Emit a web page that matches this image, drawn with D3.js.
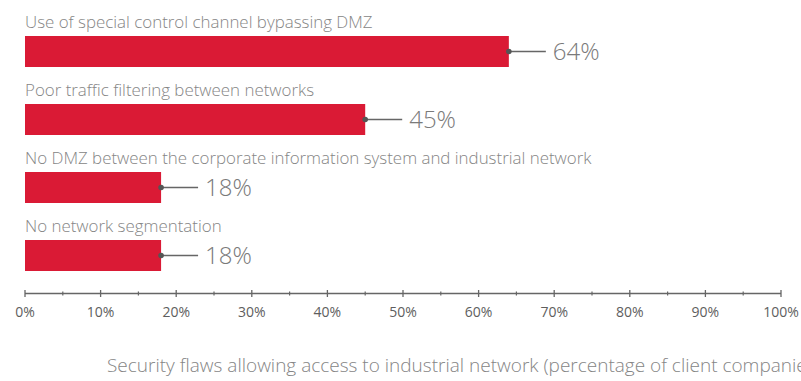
<!DOCTYPE html>
<html>
<head>
<meta charset="utf-8">
<script src="https://cdn.jsdelivr.net/npm/d3@7"></script>
<style>
  html, body { margin: 0; padding: 0; background: #fff; overflow: hidden; }
  svg { display: block; font-family: "Open Sans", "Noto Sans", sans-serif; }
</style>
</head>
<body>
<svg id="chart" width="801" height="381"></svg>
<script>
// Security flaws and share of client companies affected (%)
const categories = [
  "Use of special control channel bypassing DMZ",
  "Poor traffic filtering between networks",
  "No DMZ between the corporate information system and industrial network",
  "No network segmentation"
];
const values = [64, 45, 18, 18];
const tickValues = [0, 10, 20, 30, 40, 50, 60, 70, 80, 90, 100];
const minorTickValues = [5, 15, 25, 35, 45, 55, 65, 75, 85, 95];
const caption = "Security flaws allowing access to industrial network (percentage of client companies)";

const svg = d3.select("#chart");

const x = d3.scaleLinear().domain([0, 100]).range([25, 781]);
// four bars, 31px tall, 68px apart, starting at y = 36
const y = d3.scaleBand().domain(categories).range([36, 271]).paddingInner(37 / 68).paddingOuter(0);

const rows = svg.append("g")
  .selectAll("g.row").data(categories.map((c, i) => ({ c, v: values[i] })))
  .join("g").attr("class", "row")
  .attr("transform", d => `translate(0,${y(d.c)})`);

rows.append("text")
  .attr("x", x(0))
  .attr("y", -8)
  .attr("fill", "#858585")
  .attr("font-size", 16.9)
  .attr("font-weight", 300)
  .text(d => d.c);

rows.append("rect")
  .attr("x", x(0))
  .attr("y", 0)
  .attr("width", d => x(d.v) - x(0))
  .attr("height", y.bandwidth())
  .attr("fill", "#da1a35");

rows.append("line")
  .attr("x1", d => x(d.v))
  .attr("x2", d => x(d.v) + 37)
  .attr("y1", y.bandwidth() / 2)
  .attr("y2", y.bandwidth() / 2)
  .attr("stroke", "#666")
  .attr("stroke-width", 1.5);

rows.append("circle")
  .attr("cx", d => x(d.v))
  .attr("cy", y.bandwidth() / 2)
  .attr("r", 2.8)
  .attr("fill", "#555");

rows.append("text")
  .attr("x", d => x(d.v) + 44)
  .attr("y", y.bandwidth() / 2 + 8.5)
  .attr("fill", "#7a7a7a")
  .attr("font-size", 24)
  .attr("font-weight", 300)
  .text(d => d.v + "%");

// x axis with major and minor ticks
const axisY = 293.5;
const axisG = svg.append("g").attr("transform", `translate(0,${axisY})`);

axisG.append("line")
  .attr("x1", x(0)).attr("x2", x(100))
  .attr("stroke", "#666").attr("stroke-width", 1.5);

axisG.selectAll("line.major").data(tickValues).join("line")
  .attr("class", "major")
  .attr("x1", d => x(d)).attr("x2", d => x(d))
  .attr("y1", -3.5).attr("y2", 3.5)
  .attr("stroke", "#666").attr("stroke-width", 1.3);

axisG.selectAll("line.minor").data(minorTickValues).join("line")
  .attr("class", "minor")
  .attr("x1", d => x(d)).attr("x2", d => x(d))
  .attr("y1", -2).attr("y2", 2)
  .attr("stroke", "#666").attr("stroke-width", 1.2);

axisG.selectAll("text.tick").data(tickValues).join("text")
  .attr("class", "tick")
  .attr("x", d => x(d))
  .attr("y", 23)
  .attr("text-anchor", "middle")
  .attr("fill", "#5e5e5e")
  .attr("font-size", 14)
  .text(d => d + "%");

svg.append("text")
  .attr("x", 107)
  .attr("y", 372)
  .attr("fill", "#858585")
  .attr("font-size", 19)
  .attr("font-weight", 300)
  .text(caption);
</script>
</body>
</html>
